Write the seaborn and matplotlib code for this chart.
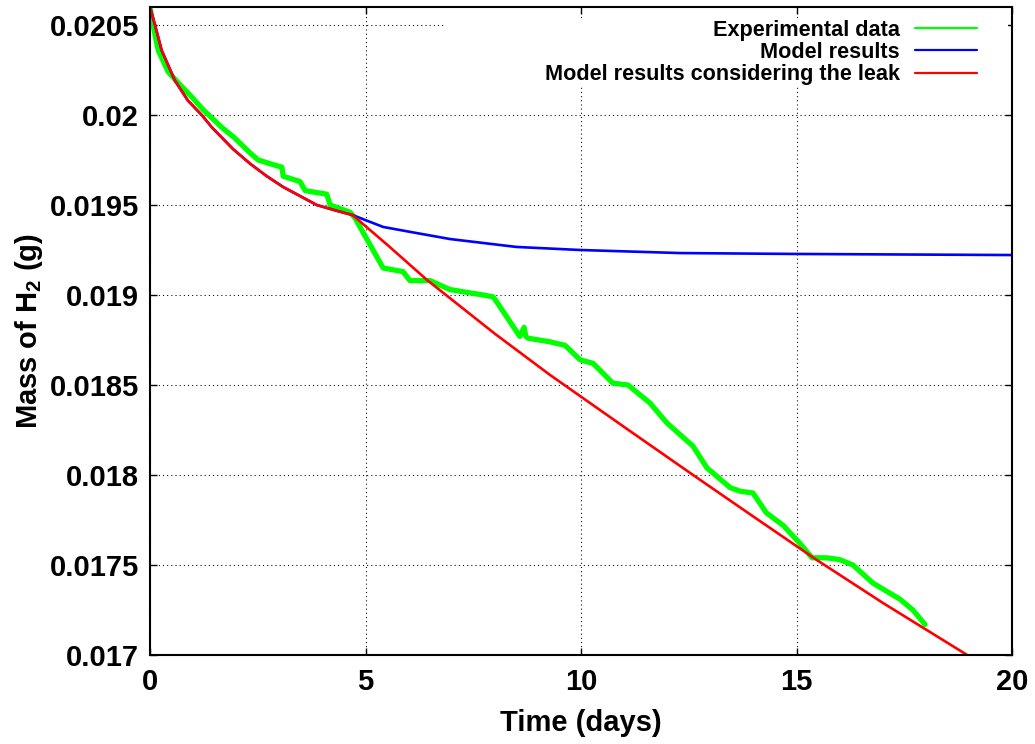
import numpy as np
import pandas as pd
import matplotlib
matplotlib.use("Agg")
import matplotlib.pyplot as plt
from matplotlib.lines import Line2D
from matplotlib.patches import Rectangle
import seaborn as sns

# ---------------- data ----------------
t_exp = [0.0, 0.07, 0.19, 0.42, 0.65, 0.97, 1.23, 1.67, 1.93, 2.32, 2.51, 2.78,
         3.06, 3.09, 3.48, 3.60, 4.10, 4.18, 4.64, 4.75, 5.41, 5.87, 6.03, 6.50,
         6.96, 7.73, 7.96, 8.05, 8.58, 8.68, 8.72, 8.77, 9.28, 9.63, 9.98, 10.28,
         10.74, 11.09, 11.60, 11.99, 12.60, 12.92, 13.46, 13.69, 13.99, 14.30,
         14.69, 15.08, 15.36, 15.70, 16.00, 16.31, 16.77, 17.40, 17.70, 17.98]
m_exp = [0.02060, 0.02050, 0.02036, 0.02024, 0.02018, 0.02010, 0.02003, 0.01993,
         0.01988, 0.01979, 0.01975, 0.01973, 0.01971, 0.01966, 0.01963, 0.01958,
         0.01956, 0.01950, 0.01946, 0.01943, 0.01915, 0.01913, 0.01908, 0.01908,
         0.01903, 0.01900, 0.01899, 0.01896, 0.01877, 0.01882, 0.01877, 0.01876,
         0.01874, 0.01872, 0.01864, 0.01862, 0.01851, 0.01850, 0.01840, 0.01829,
         0.01816, 0.01804, 0.01793, 0.01791, 0.01790, 0.01779, 0.01772, 0.01762,
         0.01754, 0.01754, 0.01753, 0.01750, 0.01740, 0.01731, 0.01725, 0.01717]

t_model = [0.0, 0.116, 0.27, 0.58, 0.88, 1.20, 1.44, 1.93, 2.32, 2.71, 3.09,
           3.48, 3.87, 4.30, 4.70, 5.41, 6.19, 6.96, 7.73, 8.50, 9.98, 12.3,
           15.0, 20.0]
m_model = [0.02060, 0.02050, 0.02036, 0.02019, 0.02008, 0.02000, 0.01993,
           0.01981, 0.01973, 0.01966, 0.01960, 0.01955, 0.01950, 0.01947,
           0.019444, 0.019378, 0.019344, 0.019311, 0.019289, 0.019267,
           0.01925, 0.019233, 0.019228, 0.019222]

t_leak = [0.0, 0.116, 0.27, 0.58, 0.88, 1.20, 1.44, 1.93, 2.32, 2.71, 3.09,
          3.48, 3.87, 4.30, 4.70, 5.50, 6.43, 8.00, 9.28, 11.0, 12.6, 14.0,
          15.47, 17.0, 18.96, 19.2]
m_leak = [0.02060, 0.02050, 0.02036, 0.02019, 0.02008, 0.02000, 0.01993,
          0.01981, 0.01973, 0.01966, 0.01960, 0.01955, 0.01950, 0.01947,
          0.019444, 0.01928, 0.019083, 0.018785, 0.018556, 0.018267, 0.0180,
          0.017769, 0.017528, 0.01729, 0.0170, 0.016965]

labels = ["Experimental data", "Model results", "Model results considering the leak"]
colors = ["#00ff00", "#0000ff", "#ff0000"]
x_ticks = [0, 5, 10, 15, 20]
y_ticks = [0.017, 0.0175, 0.018, 0.0185, 0.019, 0.0195, 0.02, 0.0205]
y_tick_labels = ["0.017", "0.0175", "0.018", "0.0185", "0.019", "0.0195", "0.02", "0.0205"]

# ---------------- style ----------------
sns.set_theme(style="ticks")
plt.rcParams["font.family"] = ["Liberation Sans", "DejaVu Sans"]
plt.rcParams["font.weight"] = "bold"
plt.rcParams["text.color"] = "black"
plt.rcParams["axes.labelcolor"] = "black"
plt.rcParams["xtick.color"] = "black"
plt.rcParams["ytick.color"] = "black"
plt.rcParams["mathtext.fontset"] = "custom"
plt.rcParams["mathtext.rm"] = "Liberation Sans:bold"
plt.rcParams["mathtext.bf"] = "Liberation Sans:bold"
plt.rcParams["mathtext.it"] = "Liberation Sans:bold"
plt.rcParams["mathtext.default"] = "bf"

W, H = 1035, 744
fig = plt.figure(figsize=(W / 100, H / 100), dpi=100)
L, R, T, B = 150, 1012, 7, 655
ax = fig.add_axes([L / W, (H - B) / H, (R - L) / W, (B - T) / H])

df_exp = pd.DataFrame({"t": t_exp, "m": m_exp})
df_mod = pd.DataFrame({"t": t_model, "m": m_model})
df_leak = pd.DataFrame({"t": t_leak, "m": m_leak})

sns.lineplot(data=df_exp, x="t", y="m", ax=ax, color=colors[0], lw=3.8,
             sort=False, estimator=None, zorder=3)
sns.lineplot(data=df_mod, x="t", y="m", ax=ax, color=colors[1], lw=1.9,
             sort=False, estimator=None, zorder=4)
sns.lineplot(data=df_leak, x="t", y="m", ax=ax, color=colors[2], lw=1.9,
             sort=False, estimator=None, zorder=5)

ax.set_xlim(0, 20)
ax.set_ylim(0.017, 0.0206)
ax.set_xticks(x_ticks)
ax.set_xticklabels([str(v) for v in x_ticks])
ax.set_yticks(y_ticks)
ax.set_yticklabels(y_tick_labels)

ax.set_axisbelow(True)
ax.grid(True, color="black", lw=0.75, linestyle=(0, (1, 3)))

for s in ax.spines.values():
    s.set_linewidth(1.5)
    s.set_color("black")
    s.set_zorder(10)

ax.tick_params(axis="both", direction="in", length=5, width=1.0,
               top=True, right=True, labelsize=21, colors="black")
ax.tick_params(axis="y", pad=8)
ax.tick_params(axis="x", pad=9)
for lab in ax.get_xticklabels() + ax.get_yticklabels():
    lab.set_fontweight("bold")
    lab.set_color("black")

ax.set_xlabel("Time (days)", fontsize=21, fontweight="bold", labelpad=10, color="black")
ax.set_ylabel("Mass of H$_2$ (g)", fontsize=21, fontweight="bold", labelpad=3, color="black")

# opaque key area (gnuplot-style)
ax.add_patch(Rectangle((0.342, 0.8796), 0.653, 0.1034, transform=ax.transAxes,
                       facecolor="white", edgecolor="none", zorder=1))

handles = [Line2D([], [], color=c, lw=1.6) for c in colors]
leg = ax.legend(handles, labels, loc="upper right", bbox_to_anchor=(0.9594, 0.98),
                frameon=False, markerfirst=False,
                prop={"weight": "bold", "size": 15.6},
                handlelength=2.85, handletextpad=0.7, labelspacing=0.05,
                borderpad=0, borderaxespad=0)
for txt in leg.get_texts():
    txt.set_ha("right")
    txt.set_color("black")
leg.set_zorder(6)

fig.savefig("out.png", dpi=100)
